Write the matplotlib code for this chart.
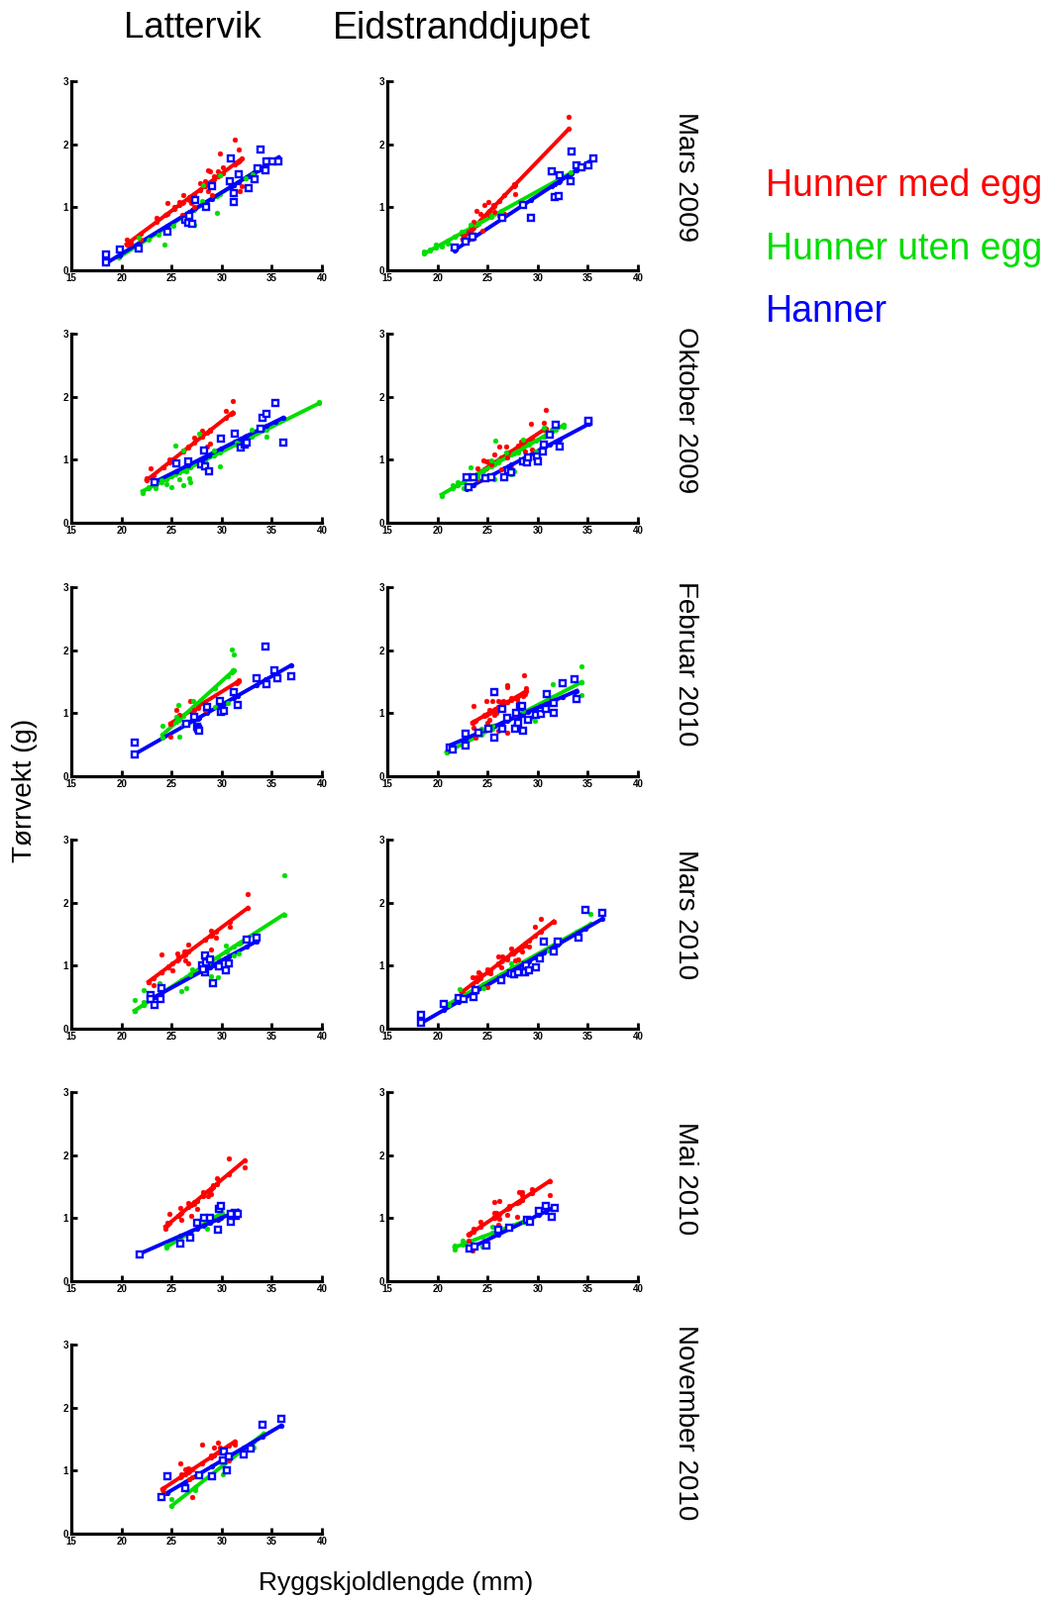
import numpy as np
import matplotlib
matplotlib.use("Agg")
import matplotlib.pyplot as plt

plt.rcParams['font.family'] = ['Liberation Sans', 'DejaVu Sans']

# --- data: (ryggskjoldlengde mm, torrvekt g) ---
# Lattervik, Mars 2009
lat_mar09_egg = [(20.5, 0.48), (20.9, 0.43), (21.9, 0.49), (23.5, 0.83), (24.4, 0.59), (24.6, 1.07),
                 (25.3, 1.01), (25.8, 1.08), (26.2, 1.20), (26.1, 0.88), (26.8, 1.12), (27.0, 1.07),
                 (27.3, 1.01), (27.8, 1.38), (28.3, 1.41), (28.6, 1.59), (28.8, 1.57), (28.6, 1.25),
                 (29.0, 1.20), (29.2, 1.49), (29.6, 1.57), (29.8, 1.85), (30.1, 1.64), (31.3, 2.07),
                 (31.7, 1.92), (31.5, 1.71), (31.8, 1.25), (32.0, 1.33)]
lat_mar09_uten = [(19.7, 0.35), (21.7, 0.52), (21.8, 0.33), (22.7, 0.49), (23.7, 0.56), (24.3, 0.41),
                  (25.2, 0.71), (27.3, 0.73), (28.0, 1.10), (28.1, 1.35), (29.5, 0.91), (29.8, 1.51),
                  (32.4, 1.46), (33.1, 1.52)]
lat_mar09_hann = [(18.5, 0.25), (18.5, 0.12), (19.8, 0.33), (21.7, 0.35), (24.6, 0.61), (26.4, 0.80),
                  (26.7, 0.75), (27.1, 0.74), (26.8, 0.86), (27.4, 1.12), (28.4, 1.01), (29.0, 1.33),
                  (30.8, 1.41), (30.9, 1.77), (31.2, 1.22), (31.2, 1.08), (31.7, 1.52), (32.7, 1.31),
                  (33.3, 1.45), (33.6, 1.62), (33.9, 1.92), (34.4, 1.59), (34.5, 1.72), (35.1, 1.73),
                  (35.7, 1.73)]

# Eidstranddjupet, Mars 2009
eid_mar09_egg = [(33.1, 2.44), (27.6, 1.36), (27.7, 1.21), (23.9, 0.95), (24.3, 0.89), (24.7, 1.04),
                 (25.1, 1.08), (25.2, 0.88), (25.6, 1.04), (25.7, 0.92), (23.6, 0.77), (23.4, 0.68),
                 (23.1, 0.61), (22.5, 0.57), (24.5, 0.63), (26.2, 0.87), (26.7, 0.90), (23.4, 0.51)]
eid_mar09_uten = [(18.7, 0.30), (19.2, 0.33), (19.8, 0.41), (20.4, 0.38), (21.0, 0.43), (21.7, 0.54),
                  (21.7, 0.38), (22.4, 0.61), (23.3, 0.73), (24.1, 0.76), (25.4, 0.86), (26.4, 0.92),
                  (33.3, 1.55)]
eid_mar09_hann = [(21.7, 0.36), (22.8, 0.46), (23.5, 0.53), (26.5, 0.83), (28.5, 1.04), (29.3, 0.83),
                  (31.4, 1.57), (31.7, 1.17), (32.1, 1.18), (32.2, 1.51), (33.3, 1.41), (33.4, 1.89),
                  (33.9, 1.66), (34.4, 1.64), (35.1, 1.66), (35.6, 1.78)]

# Lattervik, Oktober 2009
lat_okt09_egg = [(22.5, 0.70), (22.9, 0.87), (23.2, 0.67), (24.2, 0.88), (24.8, 1.01), (25.1, 0.98),
                 (26.2, 1.14), (26.7, 1.21), (27.3, 1.35), (28.0, 1.46), (28.0, 1.16), (28.5, 1.21),
                 (28.8, 1.25), (28.8, 1.48), (30.4, 1.78), (30.9, 1.73), (31.1, 1.93)]
lat_okt09_uten = [(22.1, 0.47), (22.7, 0.56), (23.4, 0.55), (24.0, 0.67), (24.5, 0.61), (25.0, 0.57),
                  (25.4, 1.23), (25.8, 0.69), (26.2, 0.59), (26.5, 0.82), (26.8, 0.70), (26.9, 0.65),
                  (26.2, 1.15), (27.7, 1.41), (28.3, 0.90), (29.2, 1.14), (29.8, 0.90), (31.5, 1.28),
                  (33.0, 1.47), (34.5, 1.36), (39.7, 1.91)]
lat_okt09_hann = [(23.3, 0.64), (25.5, 0.95), (26.7, 0.98), (27.9, 0.92), (28.2, 1.14), (28.3, 0.89),
                  (28.7, 0.81), (29.9, 1.34), (31.3, 1.42), (31.9, 1.19), (32.3, 1.24), (32.5, 1.28),
                  (34.1, 1.67), (34.5, 1.72), (35.4, 1.90), (36.1, 1.28), (33.9, 1.50)]

# Eidstranddjupet, Oktober 2009
eid_okt09_egg = [(23.3, 0.71), (24.0, 0.86), (24.6, 0.99), (24.9, 0.97), (25.1, 0.98), (24.7, 0.72),
                 (25.4, 0.93), (25.7, 1.08), (26.2, 1.21), (26.4, 0.85), (26.9, 1.21), (27.0, 1.03),
                 (27.1, 1.11), (27.4, 0.86), (28.0, 1.23), (28.3, 1.29), (28.7, 1.13), (29.0, 1.02),
                 (29.3, 1.57), (29.4, 1.17), (30.6, 1.58), (30.8, 1.79), (27.2, 0.82), (24.0, 0.69)]
eid_okt09_uten = [(20.4, 0.43), (21.5, 0.59), (22.0, 0.64), (22.6, 0.55), (23.3, 0.88), (24.0, 0.72),
                  (24.6, 0.76), (25.4, 0.99), (25.8, 1.30), (25.7, 0.69), (26.1, 0.99), (26.9, 1.11),
                  (27.4, 0.77), (27.6, 0.82), (28.0, 1.11), (28.5, 1.32), (29.1, 1.25), (29.8, 1.13),
                  (30.6, 1.51), (30.8, 1.40), (31.4, 1.47), (31.8, 1.59), (32.6, 1.53)]
eid_okt09_hann = [(22.9, 0.72), (23.1, 0.57), (23.6, 0.72), (24.8, 0.70), (25.4, 0.72), (26.7, 0.72),
                  (27.1, 0.83), (27.4, 0.80), (28.5, 0.98), (28.9, 0.96), (29.0, 1.04), (29.9, 1.05),
                  (30.0, 0.98), (30.5, 1.13), (30.6, 1.24), (31.2, 1.40), (32.2, 1.21), (31.8, 1.56),
                  (35.1, 1.60), (35.1, 1.62)]

# Lattervik, Februar 2010
lat_feb10_egg = [(25.5, 1.06), (25.8, 0.97), (24.9, 0.63), (26.9, 1.20), (27.3, 1.06), (27.6, 1.08),
                 (28.3, 1.06), (31.7, 1.53), (24.9, 0.83), (31.5, 1.47)]
lat_feb10_uten = [(24.1, 0.80), (25.7, 1.13), (25.5, 0.95), (25.8, 0.63), (27.2, 1.19), (29.3, 1.10),
                  (30.6, 1.16), (31.0, 2.01), (31.2, 1.93), (31.1, 1.68), (24.1, 0.62), (26.2, 0.82)]
lat_feb10_hann = [(21.3, 0.54), (21.3, 0.34), (26.5, 0.83), (27.3, 0.94), (27.5, 0.79), (27.6, 0.76),
                  (27.7, 0.72), (28.5, 1.10), (29.8, 1.19), (29.9, 1.02), (30.2, 1.04), (31.2, 1.34),
                  (31.6, 1.13), (33.5, 1.55), (34.4, 2.05), (34.5, 1.46), (35.3, 1.68), (35.6, 1.55),
                  (36.9, 1.58)]

# Eidstranddjupet, Februar 2010
eid_feb10_egg = [(23.6, 1.11), (23.5, 0.85), (23.6, 0.77), (23.8, 0.62), (24.7, 0.98), (24.9, 1.20),
                 (25.0, 0.85), (25.2, 1.06), (25.2, 0.90), (25.5, 1.20), (25.7, 0.98), (25.8, 1.36),
                 (25.9, 1.01), (26.1, 1.19), (26.4, 1.18), (26.6, 1.19), (27.0, 1.42), (27.0, 1.45),
                 (27.0, 0.69), (26.1, 0.73), (27.4, 1.24), (27.7, 0.98), (27.9, 1.22), (28.0, 1.16),
                 (28.5, 1.27), (28.6, 1.60), (28.8, 1.40), (28.7, 1.30)]
eid_feb10_uten = [(20.9, 0.39), (24.4, 0.75), (25.5, 0.80), (27.1, 0.95), (27.7, 0.82), (28.5, 1.04),
                  (29.7, 0.88), (31.5, 1.46), (34.4, 1.75), (34.4, 1.29), (29.3, 0.93)]
eid_feb10_hann = [(21.2, 0.46), (21.5, 0.43), (22.8, 0.67), (22.8, 0.49), (24.1, 0.69), (25.1, 0.75),
                  (25.7, 0.62), (25.7, 1.34), (26.5, 0.75), (26.5, 1.07), (27.0, 0.93), (27.7, 0.75),
                  (27.8, 1.01), (28.0, 0.85), (28.2, 1.10), (28.4, 1.12), (28.5, 0.73), (29.0, 0.90),
                  (29.8, 0.97), (30.3, 0.99), (30.8, 1.07), (30.9, 1.30), (31.6, 1.01), (32.5, 1.48),
                  (33.7, 1.54), (33.9, 1.23), (31.6, 1.16)]

# Lattervik, Mars 2010
lat_mar10_egg = [(22.7, 0.74), (23.2, 0.69), (24.0, 1.18), (24.0, 0.89), (24.7, 0.98), (25.1, 0.93),
                 (25.6, 1.19), (25.7, 1.14), (26.2, 1.16), (26.3, 1.22), (26.4, 1.09), (26.7, 1.33),
                 (26.7, 1.03), (26.4, 1.23), (28.3, 1.41), (28.9, 1.55), (29.0, 1.50), (29.4, 1.44),
                 (28.9, 1.25), (30.8, 1.61), (32.6, 2.13)]
lat_mar10_uten = [(21.3, 0.45), (21.3, 0.29), (22.2, 0.62), (22.2, 0.42), (23.8, 0.72), (26.0, 0.59),
                  (26.5, 0.64), (27.1, 0.95), (26.9, 0.87), (28.9, 0.83), (29.6, 0.82), (30.4, 1.32),
                  (30.5, 1.01), (31.2, 1.16), (31.7, 1.19), (31.9, 1.36), (36.2, 2.43), (28.6, 1.04)]
lat_mar10_hann = [(22.9, 0.54), (22.9, 0.47), (23.3, 0.38), (23.9, 0.47), (24.0, 0.64), (28.0, 1.01),
                  (28.3, 1.16), (28.3, 0.90), (28.4, 1.06), (28.8, 1.10), (29.1, 0.73), (29.7, 0.99),
                  (30.4, 0.93), (30.7, 1.03), (32.5, 1.41), (33.5, 1.44), (28.1, 0.94)]

# Eidstranddjupet, Mars 2010
eid_mar10_egg = [(22.4, 0.59), (22.5, 0.51), (23.5, 0.82), (23.9, 0.82), (24.1, 0.90), (24.3, 0.87),
                 (25.0, 0.94), (25.0, 0.66), (25.3, 0.88), (26.1, 1.14), (26.5, 1.14), (26.1, 1.03),
                 (26.4, 0.98), (27.0, 1.10), (27.4, 1.27), (27.5, 1.19), (27.7, 1.09), (28.0, 1.10),
                 (28.4, 1.22), (28.7, 1.32), (29.1, 1.30), (29.7, 1.61), (30.3, 1.75), (31.6, 1.69)]
eid_mar10_uten = [(22.2, 0.63), (21.1, 0.38), (24.6, 0.64), (26.4, 0.80), (27.4, 1.03), (28.5, 0.94),
                  (35.3, 1.82), (31.1, 1.24), (33.9, 1.45)]
eid_mar10_hann = [(18.4, 0.22), (18.4, 0.10), (20.6, 0.39), (22.1, 0.49), (22.6, 0.47), (23.6, 0.51),
                  (23.8, 0.61), (26.4, 0.77), (27.4, 0.88), (27.6, 0.87), (28.0, 0.90), (28.7, 0.90),
                  (28.8, 1.00), (29.1, 0.93), (29.8, 0.98), (30.2, 1.12), (30.6, 1.39), (31.6, 1.22),
                  (32.0, 1.39), (34.1, 1.44), (34.8, 1.89), (36.4, 1.84)]

# Lattervik, Mai 2010
lat_mai10_egg = [(24.4, 0.83), (24.6, 0.93), (24.8, 1.07), (25.7, 1.03), (25.9, 1.16), (26.0, 0.98),
                 (26.7, 1.24), (27.0, 1.03), (27.5, 1.14), (27.3, 1.22), (28.1, 1.42), (28.6, 1.35),
                 (28.9, 1.38), (29.1, 1.53), (29.5, 1.63), (30.7, 1.95), (32.3, 1.80)]
lat_mai10_uten = [(24.5, 0.57), (28.5, 0.83), (30.0, 1.16)]
lat_mai10_hann = [(21.8, 0.43), (25.9, 0.59), (26.9, 0.69), (27.5, 0.93), (28.2, 1.00), (28.8, 1.01),
                  (29.7, 1.14), (29.9, 1.19), (29.6, 0.82), (30.9, 0.94), (31.3, 1.09), (31.4, 1.03),
                  (31.6, 1.07), (30.9, 1.07)]

# Eidstranddjupet, Mai 2010
eid_mai10_egg = [(23.1, 0.64), (23.2, 0.75), (23.5, 0.49), (23.6, 0.83), (24.3, 0.94), (25.7, 1.09),
                 (25.7, 1.25), (25.9, 1.09), (26.1, 0.90), (26.2, 1.27), (26.2, 0.99), (25.7, 1.02),
                 (27.0, 1.06), (27.2, 1.19), (27.9, 1.02), (28.1, 1.42), (28.4, 1.42), (28.4, 1.36),
                 (29.4, 1.46), (31.2, 1.36)]
eid_mai10_uten = [(21.7, 0.56), (22.5, 0.64), (24.5, 0.55), (25.5, 0.86), (28.6, 0.95), (21.7, 0.51)]
eid_mai10_hann = [(23.2, 0.52), (23.7, 0.55), (24.9, 0.56), (26.1, 0.82), (27.2, 0.85), (28.9, 0.98),
                  (29.2, 0.95), (30.1, 1.11), (30.8, 1.19), (31.4, 1.02), (31.7, 1.17)]

# Lattervik, November 2010
lat_nov10_egg = [(24.1, 0.70), (24.2, 0.65), (25.9, 1.11), (26.0, 0.94), (26.4, 1.02), (26.7, 1.04),
                 (26.8, 0.86), (27.1, 0.90), (27.1, 0.58), (28.0, 1.42), (28.9, 1.24), (29.2, 1.36),
                 (29.6, 1.44), (29.8, 1.36), (30.7, 1.16), (31.3, 1.42)]
lat_nov10_uten = [(25.0, 0.55), (27.4, 0.69), (30.1, 0.94), (33.2, 1.37), (34.2, 1.76)]
lat_nov10_hann = [(24.0, 0.58), (24.6, 0.91), (26.4, 0.73), (27.7, 0.93), (29.0, 0.91), (30.2, 1.30),
                  (30.1, 1.16), (30.5, 1.01), (30.7, 1.22), (32.2, 1.25), (32.9, 1.35), (34.1, 1.72),
                  (35.9, 1.82)]

sites = ["Lattervik", "Eidstranddjupet"]
months = ["Mars 2009", "Oktober 2009", "Februar 2010", "Mars 2010", "Mai 2010", "November 2010"]
groups = ["Hunner med egg", "Hunner uten egg", "Hanner"]
colors = ["#ff0000", "#00dd00", "#0000ff"]

panels = {
    (0, 0): [lat_mar09_egg, lat_mar09_uten, lat_mar09_hann],
    (0, 1): [eid_mar09_egg, eid_mar09_uten, eid_mar09_hann],
    (1, 0): [lat_okt09_egg, lat_okt09_uten, lat_okt09_hann],
    (1, 1): [eid_okt09_egg, eid_okt09_uten, eid_okt09_hann],
    (2, 0): [lat_feb10_egg, lat_feb10_uten, lat_feb10_hann],
    (2, 1): [eid_feb10_egg, eid_feb10_uten, eid_feb10_hann],
    (3, 0): [lat_mar10_egg, lat_mar10_uten, lat_mar10_hann],
    (3, 1): [eid_mar10_egg, eid_mar10_uten, eid_mar10_hann],
    (4, 0): [lat_mai10_egg, lat_mai10_uten, lat_mai10_hann],
    (4, 1): [eid_mai10_egg, eid_mai10_uten, eid_mai10_hann],
    (5, 0): [lat_nov10_egg, lat_nov10_uten, lat_nov10_hann],
}

W, H = 1058, 1616
fig = plt.figure(figsize=(W / 100, H / 100), dpi=100)

col_left = [72, 391]
row_top = [82, 337, 593, 848, 1103, 1358]
ax_w, ax_h = 253, 191


def draw_group(ax, pts, color, square):
    arr = np.array(pts)
    x, y = arr[:, 0], arr[:, 1]
    # regresjonslinje
    k, m = np.polyfit(x, y, 1)
    xs = np.sort(x)
    ax.plot(xs, k * xs + m, color=color, lw=2.8, zorder=2,
            marker='o', ms=2.8, mec=color, mfc=color)
    if square:
        ax.plot(x, y, ls='none', marker='s', ms=4.3, mfc='white', mec=color, mew=1.7, zorder=3)
    else:
        ax.plot(x, y, ls='none', marker='o', ms=3.5, mfc=color, mec=color, mew=0.3, zorder=3)


for (r, c), grp in panels.items():
    left = col_left[c] / W
    bottom = 1 - (row_top[r] + ax_h) / H
    ax = fig.add_axes([left, bottom, ax_w / W, ax_h / H])
    for i, pts in enumerate(grp):
        draw_group(ax, pts, colors[i], i == 2)
    ax.set_xlim(15, 40)
    ax.set_ylim(0, 3)
    ax.set_xticks([15, 20, 25, 30, 35, 40])
    ax.set_yticks([0, 1, 2, 3])
    ax.spines['top'].set_visible(False)
    ax.spines['right'].set_visible(False)
    ax.spines['left'].set_linewidth(2.3)
    ax.spines['bottom'].set_linewidth(2.3)
    ax.tick_params(direction='in', length=4, width=2, labelsize=7, pad=2)
    for lab in ax.get_xticklabels() + ax.get_yticklabels():
        lab.set_fontweight('bold')
    for sp in ax.spines.values():
        sp.set_clip_on(False)

# kolonnetitler
fig.text(194 / W, 1 - 29 / H, sites[0], ha='center', va='center', fontsize=26.5)
fig.text(466 / W, 1 - 29 / H, sites[1], ha='center', va='center', fontsize=27)

# radetiketter
label_y = [179, 414, 670, 924, 1190, 1437]
for lab, yy in zip(months, label_y):
    fig.text(692 / W, 1 - yy / H, lab, rotation=-90, ha='center', va='center', fontsize=20)

# forklaring
leg_y = [188, 252, 315]
for g, col, yy in zip(groups, colors, leg_y):
    fig.text(773 / W, 1 - yy / H, g, color=col, ha='left', va='center', fontsize=27)

fig.text(25 / W, 1 - 798 / H, "Tørrvekt (g)", rotation=90, ha='center', va='center', fontsize=20)
fig.text(400 / W, 1 - 1599 / H, "Ryggskjoldlengde (mm)", ha='center', va='center', fontsize=19)

fig.savefig("out.png", dpi=100)
